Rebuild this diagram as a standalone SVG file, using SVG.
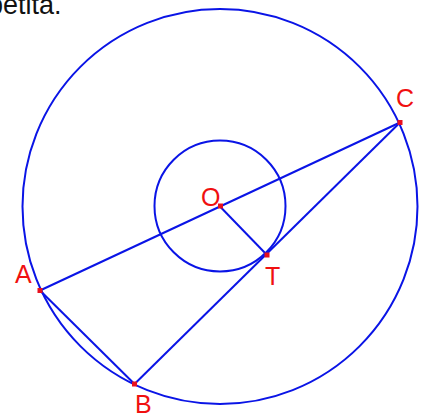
<svg xmlns="http://www.w3.org/2000/svg" width="423" height="415" viewBox="0 0 423 415">
<style>
.ln{fill:none;stroke:#0a14e6;stroke-width:2}
.pt{fill:#e8101e}
.lb{fill:#f01010;font-family:"Liberation Sans",Arial,sans-serif;font-size:25px}
.cap{fill:#111;font-family:"Liberation Sans",Arial,sans-serif;font-size:27px}
</style>
<rect width="423" height="415" fill="#fff"/>
<text class="cap" x="-12" y="13.5">petita.</text>
<g id="connectors">
<circle class="ln" cx="220" cy="206.5" r="197.5"/>
<circle class="ln" cx="220" cy="206" r="65.5"/>
<line class="ln" x1="40" y1="290.5" x2="400" y2="122.5"/>
<line class="ln" x1="40" y1="290.5" x2="134.5" y2="384"/>
<line class="ln" x1="134.5" y1="384" x2="400" y2="122.5"/>
<line class="ln" x1="220" y1="206.5" x2="266.5" y2="254.5"/>
</g>
<g id="O"><rect class="pt" x="218" y="203.5" width="5" height="5"/><text class="lb" x="201" y="206">O</text></g>
<g id="T"><rect class="pt" x="264.5" y="252.5" width="5" height="5"/><text class="lb" x="265" y="285">T</text></g>
<g id="A"><rect class="pt" x="37.5" y="288" width="5" height="5"/><text class="lb" x="15" y="283">A</text></g>
<g id="B"><rect class="pt" x="132" y="381.5" width="5" height="5"/><text class="lb" x="135" y="412.5">B</text></g>
<g id="C"><rect class="pt" x="397.5" y="120" width="5" height="5"/><text class="lb" x="396" y="107">C</text></g>
</svg>
